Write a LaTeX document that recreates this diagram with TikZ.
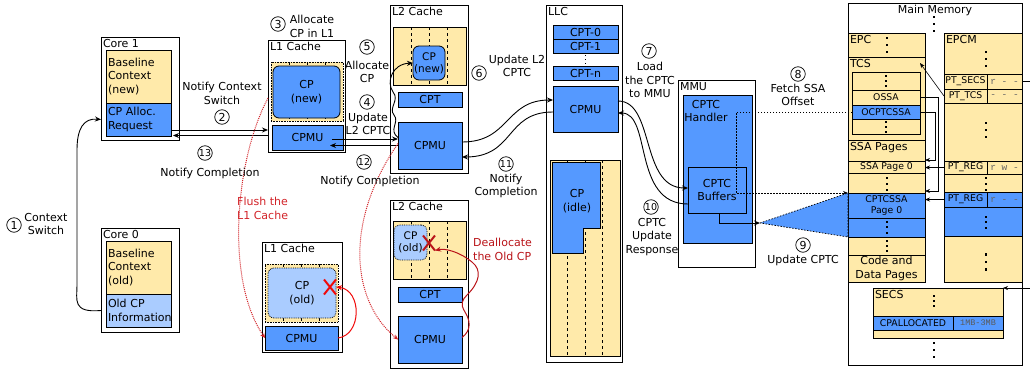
\documentclass[tikz,border=0pt]{standalone}
\usepackage{fontspec}
\setmainfont{DejaVu Sans}
\setmonofont{Liberation Mono}
\usetikzlibrary{arrows.meta, positioning, calc, shapes.misc}
\definecolor{cpYellow}{RGB}{255,234,170}
\definecolor{cpBlue}{RGB}{85,153,255}
\definecolor{cpLight}{RGB}{170,204,255}
\definecolor{flushRed}{RGB}{210,35,40}
\definecolor{killRed}{RGB}{240,10,10}
\definecolor{deallocRed}{RGB}{185,20,25}
\newcommand{\memdots}[4][2.2]{%
  \foreach \dd in {-1,0,1}
    \fill ({#2-#1/2},{#3+\dd*#4-#1/2}) rectangle ++(#1,#1);}
\tikzset{
  box size/.style 2 args={minimum width=#1pt, minimum height=#2pt},
  unit box/.style={
    rectangle, draw=black, line width=1pt, fill=white,
    anchor=north west, inner sep=0pt, outer sep=0pt
  },
  unit label/.style={
    anchor=north west, inner sep=1.8pt, font=\fontsize{11}{13}\selectfont
  },
  blue box/.style={
    rectangle, draw=black, line width=0.8pt, fill=cpBlue,
    anchor=north west, inner sep=1pt, outer sep=0pt,
    align=center, font=\fontsize{11}{13.5}\selectfont
  },
  yellow box/.style={blue box, fill=cpYellow},
  ctx box/.style={yellow box, text width=61pt, inner sep=2pt, align=left},
  way area/.style={
    rectangle, draw=black, line width=0.6pt, fill=cpYellow,
    anchor=north west, inner sep=0pt, outer sep=0pt
  },
  way line/.style={dashed, line width=0.7pt},
  cp block/.style={blue box, rounded corners=6pt},
  cp stale/.style={blue box, fill=cpLight, rounded corners=6pt, densely dotted},
  mem row/.style={yellow box, inner sep=0pt, font=\fontsize{9.3}{11.5}\selectfont},
  perm/.style={mem row, font=\ttfamily\fontsize{9.5}{10}\selectfont, text=black!60},
  num mark/.style={
    circle, draw=black, line width=0.7pt, inner sep=0pt,
    minimum size=14.5pt, font=\fontsize{11}{11}\selectfont
  },
  two digit/.style={font=\fontsize{9.5}{9.5}\selectfont},
  step note/.style={align=center, inner sep=0pt, font=\fontsize{11}{13.5}\selectfont},
  red note/.style={step note, align=left, anchor=north west, text=flushRed},
  kill mark/.style={
    cross out, draw=#1, line width=2pt, inner sep=0pt,
    minimum width=10pt, minimum height=13pt
  },
  flow arrow/.style={-{Stealth[length=6pt, width=5pt]}, line width=0.9pt},
  ptr arrow/.style={-{Stealth[length=5pt, width=4pt]}, line width=0.6pt},
  fetch arrow/.style={ptr arrow, line width=0.8pt, dash pattern=on 1.5pt off 1.5pt},
  flush arrow/.style={-{Stealth[length=5pt, width=4.5pt]}, densely dotted,
    line width=1pt, draw=flushRed},
  kill arrow/.style={-{Stealth[length=6pt, width=5pt]}, line width=1pt, draw=killRed}
}

\begin{document}
\begin{tikzpicture}[x=1pt, y=-1pt]
  \useasboundingbox (0,0) rectangle (1030,370);

  % Cores
  \node[unit box, box size={78}{103}] (core1) at (101,37) {};
  \node[unit label] (core1t) at (core1.north west) {Core 1};
  \node[ctx box, minimum height=53pt] (c1base) at (106,50) {Baseline\\Context\\(new)};
  \node[ctx box, fill=cpBlue, minimum height=33pt, below=0pt of c1base] (c1req) {CP Alloc.\\Request};
  \node[unit box, box size={78}{104}] (core0) at (101,228) {};
  \node[unit label] (core0t) at (core0.north west) {Core 0};
  \node[ctx box, minimum height=53pt] (c0base) at (106,241) {Baseline\\Context\\(old)};
  \node[ctx box, fill=cpLight, minimum height=33pt, below=0pt of c0base] (c0info) {Old CP\\Information};

  % L1 caches
  \node[unit box, box size={77}{112}] (l1a) at (268,40) {};
  \node[unit label] (l1at) at (l1a.north west) {L1 Cache};
  \node[way area, densely dotted, box size={72}{59}] (l1aw) at (271,62) {};
  \foreach \wx in {18,36,54}
    \draw[way line] ($(l1aw.north west)+(\wx,0)$) -- ($(l1aw.south west)+(\wx,0)$);
  \node[cp block, box size={67}{52}] (l1acp) at (273,66) {CP\\(new)};
  \node[blue box, box size={71}{25}] (l1acpmu) at (272,125) {CPMU};

  \node[unit box, box size={80}{110}] (l1b) at (262,242) {};
  \node[unit label] (l1bt) at (l1b.north west) {L1 Cache};
  \node[way area, densely dotted, box size={73}{58}] (l1bw) at (265,264) {};
  \foreach \wx in {18,36,54}
    \draw[way line] ($(l1bw.north west)+(\wx,0)$) -- ($(l1bw.south west)+(\wx,0)$);
  \node[cp stale, box size={68}{50}] (l1bcp) at (268,268) {CP\\(old)};
  \node[blue box, box size={73}{24}] (l1bcpmu) at (265,326) {CPMU};
  \node[kill mark=killRed] (l1x) at (330,287) {};

  % L2 caches
  \node[unit box, box size={78}{168}] (l2a) at (390,5) {};
  \node[unit label] (l2at) at (l2a.north west) {L2 Cache};
  \node[way area, box size={73}{58}] (l2aw) at (393,27) {};
  \foreach \wx in {18.5,36.5,54.5}
    \draw[way line] ($(l2aw.north west)+(\wx,0)$) -- ($(l2aw.south west)+(\wx,0)$);
  \node[cp block, box size={32}{34}, inner sep=0pt, font=\fontsize{10.5}{12}\selectfont] (l2acp) at (413,46) {CP\\(new)};
  \node[blue box, box size={64}{15}] (l2acpt) at (398,92) {CPT};
  \node[blue box, box size={64}{47}] (l2acpmu) at (398,122) {CPMU};

  \node[unit box, box size={78}{168}] (l2b) at (390,200) {};
  \node[unit label] (l2bt) at (l2b.north west) {L2 Cache};
  \node[way area, box size={73}{58}] (l2bw) at (393,221) {};
  \foreach \wx in {18.5,36.5,54.5}
    \draw[way line] ($(l2bw.north west)+(\wx,0)$) -- ($(l2bw.south west)+(\wx,0)$);
  \node[cp stale, box size={33}{35}, inner sep=0pt, font=\fontsize{10.5}{12}\selectfont] (l2bcp) at (394,225) {CP\\(old)};
  \node[blue box, box size={64}{15}] (l2bcpt) at (398,287) {CPT};
  \node[blue box, box size={64}{47}] (l2bcpmu) at (398,316) {CPMU};
  \node[kill mark=deallocRed] (l2x) at (429,243) {};

  % LLC
  \node[unit box, box size={76}{357}] (llc) at (546,5) {};
  \node[unit label] (llct) at (llc.north west) {LLC};
  \node[blue box, box size={65}{14}] (cpt0) at (553,25) {CPT-0};
  \node[blue box, box size={65}{14}, below=0pt of cpt0] (cpt1) {CPT-1};
  \memdots[1.2]{585.5}{59.5}{4}
  \node[blue box, box size={65}{14}] (cptn) at (553,66) {CPT-n};
  \node[blue box, box size={65}{46}] (llccpmu) at (553,86) {CPMU};
  \node[way area, box size={70}{196}] (llcw) at (550,160) {};
  \foreach \wx in {17,35,52}
    \draw[way line] ($(llcw.north west)+(\wx,0)$) -- ($(llcw.south west)+(\wx,0)$);
  \draw[line width=0.8pt, fill=cpBlue] (552,162) -- (600,162) -- (600,228)
    -- (583,228) -- (583,253) -- (552,253) -- cycle;
  \node[step note] (llccp) at (577,201) {CP\\(idle)};

  % MMU
  \node[unit box, box size={77}{187}] (mmu) at (678,80) {};
  \node[unit label] (mmut) at (mmu.north west) {MMU};
  \node[blue box, box size={69}{148}] (handler) at (683,95) {};
  \node[step note] (handlert) at (706,111) {CPTC\\Handler};
  \node[blue box, box size={58}{46}] (buffers) at (688,167) {CPTC\\Buffers};

  % Main memory: EPC column
  \node[unit box, box size={174}{362}] (mem) at (848,3) {};
  \node[unit label, anchor=north] (memt) at (mem.north) {Main Memory};
  \memdots{934}{24}{7}
  \node[yellow box, box size={77}{24}] (epc) at (848,33) {};
  \node[unit label] (epct) at (epc.north west) {EPC};
  \memdots{887}{45}{7}
  \node[yellow box, box size={77}{83}] (tcs) at (848,57) {};
  \node[unit label] (tcst) at (tcs.north west) {TCS};
  \node[mem row, box size={68}{18}] (tcsa) at (852,72) {};
  \memdots[2]{886}{81}{5}
  \node[mem row, box size={68}{15}, below=0pt of tcsa] (ossa) {OSSA};
  \node[mem row, fill=cpBlue, box size={68}{14}, below=0pt of ossa] (ocptcssa) {OCPTCSSA};
  \node[mem row, box size={68}{15}, below=0pt of ocptcssa] (tcsb) {};
  \memdots[2]{886}{127}{5}
  \node[yellow box, box size={77}{21}] (ssap) at (848,140) {};
  \node[unit label] (ssapt) at (ssap.north west) {SSA Pages};
  \node[mem row, box size={77}{12}, below=0pt of ssap] (ssa0) {SSA Page 0};
  \node[mem row, box size={77}{20}, below=0pt of ssa0] (ssad) {};
  \memdots[2]{887}{184}{6}
  \node[mem row, fill=cpBlue, box size={77}{25}, below=0pt of ssad] (cptcssa) {CPTCSSA\\Page 0};
  \node[mem row, fill=cpBlue, box size={77}{19}, below=0pt of cptcssa] (cptd) {};
  \memdots[2]{887}{227}{5.5}
  \node[mem row, box size={77}{18}, below=0pt of cptd] (ssae) {};
  \memdots[2]{887}{246}{5}
  \node[yellow box, box size={77}{27}, inner sep=0pt, font=\fontsize{11}{14}\selectfont,
    below=0pt of ssae] (code) {Code and\\Data Pages};

  % Main memory: EPCM column
  \node[yellow box, box size={78}{41}] (epcm) at (944,33) {};
  \node[unit label] (epcmt) at (epcm.north west) {EPCM};
  \memdots{986}{59}{7}
  \node[mem row, box size={43}{15}] (ptsecs) at (944,74) {PT\_SECS};
  \node[perm, box size={35}{15}, right=0pt of ptsecs] (ptsecsp) {r - -};
  \node[mem row, box size={43}{14}, below=0pt of ptsecs] (pttcs) {PT\_TCS};
  \node[perm, box size={35}{14}, right=0pt of pttcs] (pttcsp) {- - -};
  \node[yellow box, box size={78}{58}] (epcmb) at (944,103) {};
  \memdots{986}{130}{7}
  \node[mem row, box size={43}{13}] (ptreg) at (944,161) {PT\_REG};
  \node[perm, box size={35}{13}, right=0pt of ptreg] (ptregp) {r w -};
  \node[yellow box, box size={78}{18}] (epcmc) at (944,174) {};
  \memdots[2]{986}{184}{6}
  \node[mem row, fill=cpBlue, box size={43}{15}] (ptreg2) at (944,192) {PT\_REG};
  \node[perm, fill=cpBlue, box size={35}{15}, right=0pt of ptreg2] (ptreg2p) {r - -};
  \node[blue box, box size={78}{29}] (epcmd) at (944,207) {};
  \memdots[2]{986}{222}{5.5}
  \node[yellow box, box size={78}{46}] (epcme) at (944,236) {};
  \memdots{986}{262}{7.5}

  % SECS
  \node[yellow box, box size={130}{50}] (secs) at (873,288) {};
  \node[unit label] (secst) at (secs.north west) {SECS};
  \memdots[2]{934}{301}{5}
  \node[mem row, fill=cpBlue, box size={80}{14}] (cpalloc) at (873,316) {CPALLOCATED};
  \node[perm, fill=cpBlue, box size={50}{14}, font=\ttfamily\fontsize{8.5}{9}\selectfont,
    text=black!65, right=0pt of cpalloc] (cpallocv) {1MB-3MB};
  \memdots{934}{350}{7}

  % Steps 1-13
  \draw[flow arrow] (core0.west |- c0info.west) .. controls (72,313) and (77,300) .. (77,285)
    -- (77,150) .. controls (77,128) and (84,118) .. (core1.west |- c1req.west);
  \draw[flow arrow] ($(c1req.east)+(0,10.5)$) -- ($(l1a.west |- c1req.east)+(0,10.5)$);
  \draw[flow arrow] ($(l1a.west |- c1req.east)+(0,16)$) -- ($(c1req.east)+(2,16)$);
  \draw[flow arrow] ($(l1acpmu.east)+(-11,1.5)$) -- ($(l2acpmu.west)+(0,-6.5)$);
  \draw[flow arrow] (l2acpmu.west) -- ($(l1acpmu.east)+(-13,8)$);
  \draw[flow arrow] ($(l2acpmu.west)+(0,-8)$) .. controls (388,130) and (400,122) .. (394,115)
    .. controls (388,108) and (400,100) .. (393,92) .. controls (386,82) and (392,64) .. (l2acp.west);
  \draw[flow arrow] ($(l2acpmu.east)+(0,-3.5)$) .. controls (510,142) and (505,100) .. ($(llccpmu.west)+(0,-9)$);
  \draw[flow arrow] ($(llccpmu.west)+(0,3)$) .. controls (505,112) and (515,157) .. ($(l2acpmu.east)+(0,11.5)$);
  \draw[flow arrow] ($(llccpmu.east)+(0,-8)$) .. controls (655,101) and (640,188) .. ($(buffers.west)+(0,-2)$);
  \draw[flow arrow] ($(buffers.west)+(0,14)$) .. controls (632,204) and (652,113) .. ($(llccpmu.east)+(0,4)$);
  \draw[fetch arrow] (ocptcssa.west) -- (736,112) |- (cptcssa.north west);
  \coordinate (tip) at (760,223);
  \draw[fill=cpBlue, line width=0.7pt, dash pattern=on 1.5pt off 1.5pt]
    (tip) -- (cptcssa.north west) -- (cptd.south west) -- cycle;
  \draw[flow arrow] ($(buffers.south)+(2,0)$) |- (tip);

  % Pointers in main memory
  \draw[ptr arrow] (pttcs.west) -- ($(tcs.north east)+(-5,6)$);
  \draw[ptr arrow] (ptsecsp.east) -- ++(12,0) |- (secs.north east);
  \draw[ptr arrow] (ossa.east) -- ++(18,0) |- ($(cptcssa.north east)+(0,-2)$);
  \draw[ptr arrow] (ocptcssa.east) -- ++(15,0) |- ($(ssa0.north east)+(0,-1)$);
  \draw[ptr arrow] (ptreg.west) -- (ptreg.west -| ssa0.east);
  \draw[ptr arrow] (ptreg2.west) -- (ptreg2.west -| cptcssa.east);

  % Flush and deallocation
  \draw[flush arrow] ($(l1a.west)+(0,2)$) .. controls (235,160) and (225,280) .. (l1bcpmu.west);
  \draw[flush arrow] ($(l2acpmu.west)+(0,-2)$) .. controls (345,220) and (350,300) .. (l2bcpmu.west);
  \draw[kill arrow] (l1bcpmu.east) .. controls (362,335) and (362,290) .. (l1x.east);
  \draw[kill arrow, draw=deallocRed] ($(l2bcpmu.east)+(0,-2)$) .. controls (472,330) and (470,320) .. (465,312)
    .. controls (460,304) and (462,300) .. (467,295) .. controls (480,282) and (482,270) .. (472,262)
    .. controls (460,252) and (445,248) .. (l2x.south east);

  % Step labels
  \node[num mark] (n1) at (14,225) {1};
  \node[step note] (n1t) at (46,224) {Context\\Switch};
  \node[num mark] (n2) at (222,117) {2};
  \node[step note] (n2t) at (222,93.5) {Notify Context\\Switch};
  \node[num mark] (n3) at (278,24) {3};
  \node[step note] (n3t) at (312,26.5) {Allocate\\CP in L1};
  \node[num mark] (n4) at (367,102) {4};
  \node[step note] (n4t) at (368,124) {Update\\L2 CPTC};
  \node[num mark] (n5) at (367,47) {5};
  \node[step note] (n5t) at (367,72) {Allocate\\CP};
  \node[num mark] (n6) at (479,73) {6};
  \node[step note] (n6t) at (517,66) {Update L2\\CPTC};
  \node[num mark] (n7) at (649,51) {7};
  \node[step note] (n7t) at (650,80) {Load\\the CPTC\\to MMU};
  \node[num mark] (n8) at (798,74) {8};
  \node[step note] (n8t) at (798,95) {Fetch SSA\\Offset};
  \node[num mark] (n9) at (803,245) {9};
  \node[step note] (n9t) at (803,260) {Update CPTC};
  \node[num mark, two digit] (n10) at (651,207) {10};
  \node[step note] (n10t) at (652,237) {CPTC\\Update\\Response};
  \node[num mark, two digit] (n11) at (506,164) {11};
  \node[step note] (n11t) at (506,186) {Notify\\Completion};
  \node[num mark, two digit] (n12) at (364,162) {12};
  \node[step note] (n12t) at (370,181) {Notify Completion};
  \node[num mark, two digit] (n13) at (205,153) {13};
  \node[step note] (n13t) at (210,173) {Notify Completion};
  \node[red note] (flusht) at (237,197) {Flush the\\L1 Cache};
  \node[red note, text=deallocRed] (dealloct) at (473,238) {Deallocate\\the Old CP};
\end{tikzpicture}
\end{document}
